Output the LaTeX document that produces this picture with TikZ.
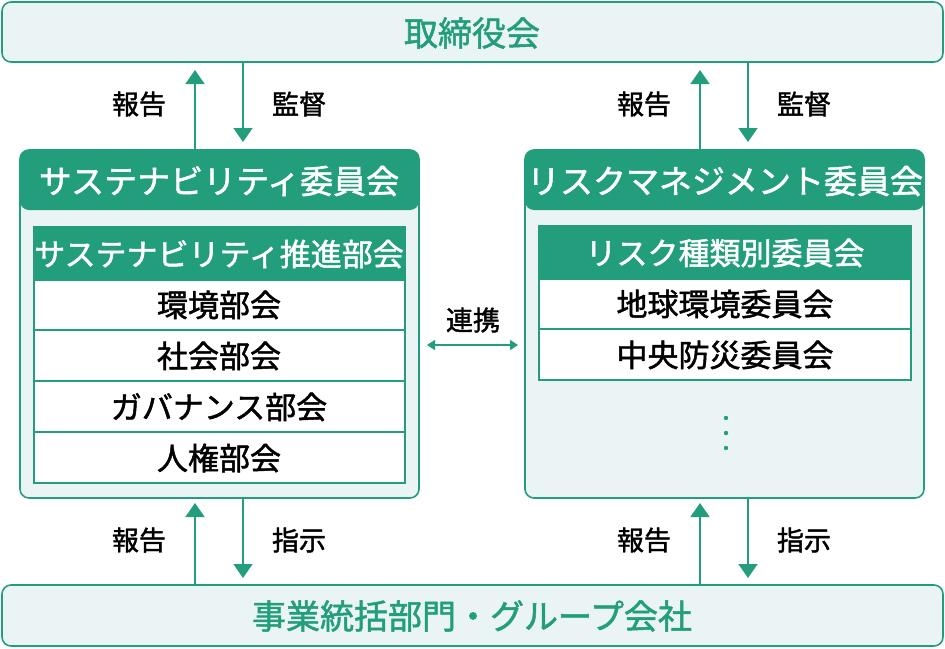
\documentclass[tikz,border=0pt]{standalone}
\usepackage{fontspec}
\setmainfont{Noto Sans CJK JP}[FakeBold=1.5]
\usetikzlibrary{arrows.meta}
\definecolor{gr}{HTML}{239E7C}
\definecolor{lt}{HTML}{EAF4F4}
\begin{document}
\begin{tikzpicture}[x=1pt,y=-1pt,
 outer/.style={draw=gr,line width=1.6pt,fill=lt,rounded corners=9pt},
 head/.style={fill=gr,rounded corners=9pt},
 row/.style={draw=gr,line width=1.6pt,fill=white},
 hrow/.style={draw=gr,line width=1.6pt,fill=gr},
 arr/.style={draw=gr,line width=1.6pt,-{Triangle[width=19pt,length=14pt]}},
 darr/.style={draw=gr,line width=1.6pt,{Triangle[width=10pt,length=8pt]}-{Triangle[width=10pt,length=8pt]}},
 lbl/.style={font=\fontsize{27}{27}\selectfont},
 big/.style={font=\fontsize{34}{34}\selectfont,text=gr},
 wt/.style={font=\fontsize{33}{33}\selectfont,text=white},
 bt/.style={font=\fontsize{31}{31}\selectfont}]
\useasboundingbox (0,0) rectangle (945,648);
% top and bottom
\draw[outer] (2,2) rectangle (943,62);
\node[big] (top) at (472,33) {取締役会};
\draw[outer] (2,585) rectangle (943,646);
\node[big] (bot) at (472,616) {事業統括部門・グループ会社};
% left committee
\draw[outer] (20,150) rectangle (419,498);
\fill[head] (20,150) rectangle (419,210);
\node[wt] (lc) at (219,181) {サステナビリティ委員会};
\draw[hrow] (34,227) rectangle (405,280);
\node[font=\fontsize{31}{31}\selectfont,text=white] (lh) at (219,254) {サステナビリティ推進部会};
\draw[row] (34,280) rectangle (405,330); \node[bt] (l1) at (219,305) {環境部会};
\draw[row] (34,330) rectangle (405,381); \node[bt] (l2) at (219,356) {社会部会};
\draw[row] (34,381) rectangle (405,432); \node[bt] (l3) at (219,407) {ガバナンス部会};
\draw[row] (34,432) rectangle (405,483); \node[bt] (l4) at (219,458) {人権部会};
% right committee
\draw[outer] (525,150) rectangle (924,498);
\fill[head] (525,150) rectangle (924,210);
\node[wt] (rc) at (725,181) {リスクマネジメント委員会};
\draw[hrow] (539,226) rectangle (911,279);
\node[font=\fontsize{31}{31}\selectfont,text=white] (rh) at (725,253) {リスク種類別委員会};
\draw[row] (539,279) rectangle (911,329); \node[bt] (r1) at (725,304) {地球環境委員会};
\draw[row] (539,329) rectangle (911,380); \node[bt] (r2) at (725,355) {中央防災委員会};
\foreach \y in {418,433,448} \fill[gr] (726,\y) circle (2.2);
% arrows
\coordinate (a1s) at (195,150); \coordinate (a1e) at (195,70);
\coordinate (a2s) at (243,62); \coordinate (a2e) at (243,142);
\coordinate (a3s) at (700,150); \coordinate (a3e) at (700,70);
\coordinate (a4s) at (748,62); \coordinate (a4e) at (748,142);
\coordinate (b1s) at (195,585); \coordinate (b1e) at (195,503);
\coordinate (b2s) at (243,498); \coordinate (b2e) at (243,578);
\coordinate (b3s) at (700,585); \coordinate (b3e) at (700,503);
\coordinate (b4s) at (748,498); \coordinate (b4e) at (748,578);
\foreach \p in {a1,a2,a3,a4,b1,b2,b3,b4} \draw[arr] (\p s) -- (\p e);
\node[lbl] (t1) at (139,104) {報告}; \node[lbl] (t2) at (299,104) {監督};
\node[lbl] (t3) at (644,104) {報告}; \node[lbl] (t4) at (804,104) {監督};
\node[lbl] (t5) at (139,540) {報告}; \node[lbl] (t6) at (299,540) {指示};
\node[lbl] (t7) at (644,540) {報告}; \node[lbl] (t8) at (804,540) {指示};
\node[lbl] (lk) at (473,320) {連携};
\coordinate (c1) at (427,345); \coordinate (c2) at (518,345);
\draw[darr] (c1) -- (c2);
\end{tikzpicture}
\end{document}
